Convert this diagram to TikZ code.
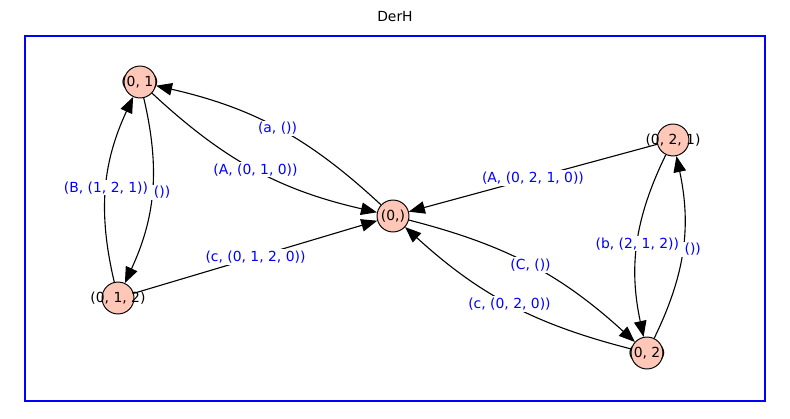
\documentclass[tikz,border=0pt]{standalone}
\usepackage{fontspec}
\setmainfont{DejaVu Sans}
\usetikzlibrary{arrows.meta}
\definecolor{vfill}{HTML}{FEC7B8}
\tikzstyle{vert} = [circle, 
			draw, 
			fill = vfill, 
			line width = 0.7pt, 
			minimum size = 23pt, 
			inner sep = 0pt]
\tikzstyle{elabel} = [fill = white, 
			text = blue, 
			inner sep = 1pt]
\tikzstyle{line} = [draw, line width = 0.8pt, -{Triangle[length=11.5pt, width=9pt]}]

\begin{document}
\begin{tikzpicture}[x=0.72pt, y=0.72pt, font=\fontsize{10}{12}\selectfont]
	\useasboundingbox (0,0) rectangle (790,-418);
	\node (title) at (395,-17) {DerH};
	\draw [blue, line width = 1pt] (25,-36) rectangle (765,-401);
	\node [vert, label={center:(0, 1)}] (v01) at (140,-82) {};
	\node [vert, label={center:(0, 1, 2)}] (v012) at (118,-298) {};
	\node [vert, label={center:(0,)}] (v0) at (393,-216) {};
	\node [vert, label={center:(0, 2, 1)}] (v021) at (673,-140) {};
	\node [vert, label={center:(0, 2)}] (v02) at (647,-353) {};
	\path [line] (v0) to [bend right=15] node [elabel] {(a, ())} (v01);
	\path [line] (v01) to [bend right=15] node [elabel] {(A, (0, 1, 0))} (v0);
	\path [line] (v01) to [bend left=19] node [elabel, anchor=west, xshift=-4pt] {\hspace{4pt}())} (v012);
	\path [line] (v012) to [bend left=19] node [elabel] {(B, (1, 2, 1))} (v01);
	\path [line] (v012) -- node [elabel] {(c, (0, 1, 2, 0))} (v0);
	\path [line] (v021) -- node [elabel] {(A, (0, 2, 1, 0))} (v0);
	\path [line] (v0) to [bend left=14] node [elabel] {(C, ())} (v02);
	\path [line] (v02) to [bend left=14] node [elabel] {(c, (0, 2, 0))} (v0);
	\path [line] (v02) to [bend right=19] node [elabel, anchor=west, xshift=-4pt] {\hspace{4pt}())} (v021);
	\path [line] (v021) to [bend right=19] node [elabel] {(b, (2, 1, 2))} (v02);
\end{tikzpicture}
\end{document}
